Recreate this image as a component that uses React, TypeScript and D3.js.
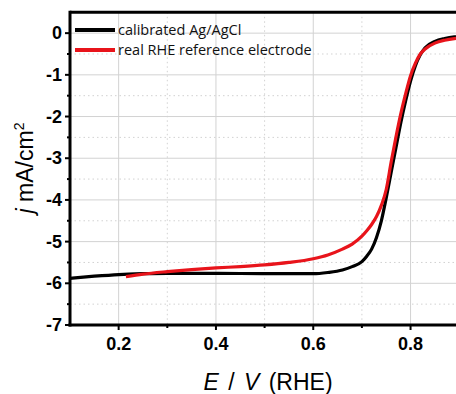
import React from "react";
import * as d3 from "d3";

const blackE = [0.10, 0.15, 0.20, 0.25, 0.30, 0.40, 0.50, 0.60, 0.63, 0.66, 0.68, 0.70, 0.71, 0.72, 0.73, 0.74, 0.75, 0.76, 0.77, 0.78, 0.79, 0.80, 0.81, 0.82, 0.83, 0.85, 0.87, 0.89, 0.90];
const blackJ = [-5.88, -5.83, -5.79, -5.77, -5.76, -5.76, -5.77, -5.77, -5.74, -5.68, -5.60, -5.48, -5.35, -5.18, -4.90, -4.50, -3.95, -3.35, -2.75, -2.15, -1.62, -1.15, -0.78, -0.52, -0.35, -0.20, -0.13, -0.09, -0.08];

const redE = [0.215, 0.25, 0.30, 0.35, 0.40, 0.45, 0.50, 0.55, 0.60, 0.63, 0.66, 0.68, 0.70, 0.71, 0.72, 0.73, 0.74, 0.75, 0.76, 0.77, 0.78, 0.79, 0.80, 0.81, 0.82, 0.83, 0.85, 0.87, 0.89, 0.90];
const redJ = [-5.84, -5.78, -5.72, -5.67, -5.63, -5.60, -5.56, -5.50, -5.41, -5.32, -5.18, -5.06, -4.87, -4.74, -4.59, -4.40, -4.13, -3.75, -3.10, -2.49, -1.93, -1.45, -1.02, -0.72, -0.50, -0.38, -0.24, -0.17, -0.13, -0.12];

const xMajor = [0.2, 0.4, 0.6, 0.8];
const xMinor = [0.3, 0.5, 0.7];
const yMajor = [0, -1, -2, -3, -4, -5, -6, -7];
const yMinor = [-0.5, -1.5, -2.5, -3.5, -4.5, -5.5, -6.5];
const legendLabels = ["calibrated Ag/AgCl", "real RHE reference electrode"];
const seriesColors = ["#000000", "#e8141b"];

const W = 456;
const H = 394;
const L = 70;
const B = 325;
const T = 12.3;

export default function App() {
  const x = d3.scaleLinear().domain([0.1, 0.9]).range([L, L + 0.8 * 486.5]);
  const y = d3.scaleLinear().domain([-7, 0.5]).range([B, T]);
  const line = d3
    .line<[number, number]>()
    .x((d) => x(d[0]))
    .y((d) => y(d[1]))
    .curve(d3.curveMonotoneX);
  const blackPts: [number, number][] = blackE.map((e, i) => [e, blackJ[i]]);
  const redPts: [number, number][] = redE.map((e, i) => [e, redJ[i]]);
  const grid = "#d2d2d2";
  return (
    <svg
      width={W}
      height={H}
      style={{ position: "absolute", left: 0, top: 0, background: "#fff" }}
      fontFamily="Arial, 'Liberation Sans', sans-serif"
    >
      <defs>
        <clipPath id="plot">
          <rect x={L} y={T} width={W - L} height={B - T} />
        </clipPath>
      </defs>
      {/* grid */}
      {xMajor.map((v) => (
        <line key={"gx" + v} x1={x(v)} x2={x(v)} y1={T} y2={B} stroke={grid} strokeWidth={1} />
      ))}
      {xMinor.map((v) => (
        <line key={"gxm" + v} x1={x(v)} x2={x(v)} y1={T} y2={B} stroke={grid} strokeWidth={1} strokeDasharray="1.5 3" />
      ))}
      {yMajor.map((v) => (
        <line key={"gy" + v} x1={L} x2={W} y1={y(v)} y2={y(v)} stroke={grid} strokeWidth={1} />
      ))}
      {yMinor.map((v) => (
        <line key={"gym" + v} x1={L} x2={W} y1={y(v)} y2={y(v)} stroke={grid} strokeWidth={1} strokeDasharray="1.5 3" />
      ))}
      {/* curves */}
      <g clipPath="url(#plot)">
        <path d={line(blackPts) || ""} fill="none" stroke={seriesColors[0]} strokeWidth={3.2} strokeLinejoin="round" />
        <path d={line(redPts) || ""} fill="none" stroke={seriesColors[1]} strokeWidth={3.2} strokeLinejoin="round" />
      </g>
      {/* axes */}
      <line x1={L} x2={W} y1={T} y2={T} stroke="#000" strokeWidth={3} />
      <line x1={L} x2={L} y1={T - 1.5} y2={B + 1.5} stroke="#000" strokeWidth={3} />
      <line x1={L - 1.5} x2={W} y1={B} y2={B} stroke="#000" strokeWidth={3} />
      {yMajor.map((v) => (
        <g key={"yt" + v}>
          <line x1={L - 5} x2={L} y1={y(v)} y2={y(v)} stroke="#000" strokeWidth={2} />
          <text x={L - 8} y={y(v) + 6} textAnchor="end" fontSize={18} fontWeight="bold">
            {v}
          </text>
        </g>
      ))}
      {yMinor.map((v) => (
        <line key={"ytm" + v} x1={L - 3} x2={L} y1={y(v)} y2={y(v)} stroke="#000" strokeWidth={2} />
      ))}
      {xMajor.map((v) => (
        <g key={"xt" + v}>
          <line x1={x(v)} x2={x(v)} y1={B} y2={B + 5} stroke="#000" strokeWidth={2} />
          <text x={x(v)} y={350} textAnchor="middle" fontSize={18} fontWeight="bold">
            {v.toFixed(1)}
          </text>
        </g>
      ))}
      {xMinor.map((v) => (
        <line key={"xtm" + v} x1={x(v)} x2={x(v)} y1={B} y2={B + 3} stroke="#000" strokeWidth={2} />
      ))}
      {/* axis titles */}
      <text x={268} y={390} textAnchor="middle" fontSize={23} wordSpacing={3}>
        <tspan fontStyle="italic">E</tspan>
        <tspan> / </tspan>
        <tspan fontStyle="italic">V</tspan>
        <tspan> (RHE)</tspan>
      </text>
      <text transform="translate(33,168) rotate(-90)" textAnchor="middle" fontSize={23}>
        <tspan fontStyle="italic">j</tspan>
        <tspan> mA/cm</tspan>
        <tspan fontSize={14} dy={-9}>2</tspan>
      </text>
      {/* legend */}
      {legendLabels.map((lab, i) => (
        <g key={lab}>
          <line x1={75} x2={115} y1={30 + i * 20} y2={30 + i * 20} stroke={seriesColors[i]} strokeWidth={4} />
          <text x={118} y={35 + i * 20} fontSize={14.5} fontFamily="'Open Sans', sans-serif" fill="#111">
            {lab}
          </text>
        </g>
      ))}
    </svg>
  );
}
